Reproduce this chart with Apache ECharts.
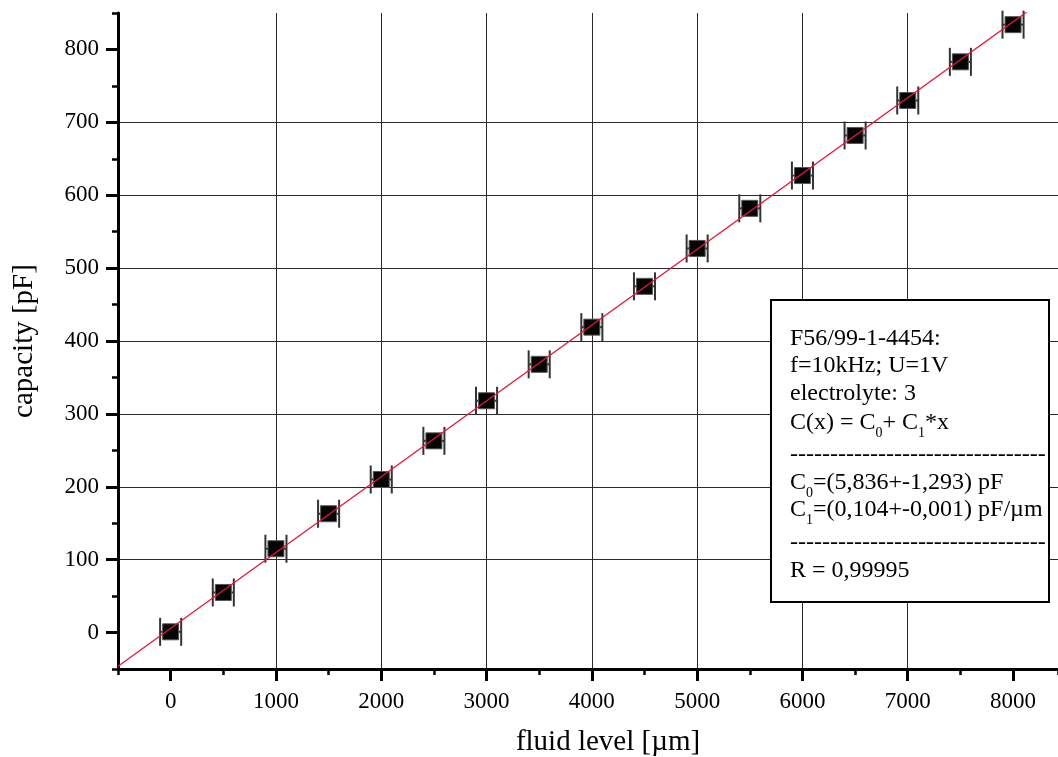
<!DOCTYPE html>
<html>
<head>
<meta charset="utf-8">
<title>capacity vs fluid level</title>
<script src="https://cdn.jsdelivr.net/npm/echarts@6/dist/echarts.min.js"></script>
<style>
  html, body { margin: 0; padding: 0; background: #fff; }
  #chart { width: 1058px; height: 757px; }
</style>
</head>
<body>
<div id="chart"></div>
<script>
// Measured points: fluid level [µm] and capacity [pF]
const levels = [0, 500, 1000, 1500, 2000, 2500, 3000, 3500, 4000, 4500, 5000, 5500, 6000, 6500, 7000, 7500, 8000];
const capacity = [1, 55, 115, 163, 210, 263, 318, 368, 419, 475, 527, 582, 627, 682, 730, 783, 834];
// Uncertainty of the fluid level reading [µm]
const levelError = [100, 100, 100, 100, 100, 100, 100, 100, 100, 100, 100, 100, 100, 100, 100, 100, 100];

// Linear fit C(x) = C0 + C1*x
const C0 = 5.836;
const C1 = 0.104;

// Axis ranges and labelled ticks
const xRange = [-500, 8427];
const yRange = [-50, 850];
const xTicks = [0, 1000, 2000, 3000, 4000, 5000, 6000, 7000, 8000];
const yTicks = [0, 100, 200, 300, 400, 500, 600, 700, 800];

// Annotation text
const infoLines = [
  'F56/99-1-4454:',
  'f=10kHz; U=1V',
  'electrolyte: 3',
  '{t|C(x) = C}{s|0}{t|+ C}{s|1}{t|*x}',
  '--------------------------------',
  '{t|C}{s|0}{t|=(5,836+-1,293) pF}',
  '{t|C}{s|1}{t|=(0,104+-0,001) pF/µm}',
  '--------------------------------',
  'R = 0,99995'
];

const FONT = '"Liberation Serif", "Times New Roman", serif';

const pts = levels.map((x, i) => [x, capacity[i]]);
const errData = levels.map((x, i) => [x, capacity[i], levelError[i]]);
const fitData = xRange.map(x => [x, C0 + C1 * x]);

const chart = echarts.init(document.getElementById('chart'), null, { renderer: 'canvas' });

const majorAxisCommon = {
  type: 'value',
  axisLine: { show: true, onZero: false, lineStyle: { color: '#000', width: 3 } },
  axisTick: { show: true, inside: false, length: 12, lineStyle: { color: '#000', width: 3 } },
  splitLine: { show: true, showMinLine: false, showMaxLine: false, lineStyle: { color: '#2a2a2a', width: 1 } },
  axisLabel: { color: '#000', fontFamily: FONT, fontSize: 23 }
};
const minorAxisCommon = {
  type: 'value',
  axisLine: { show: false, onZero: false },
  axisTick: { show: true, inside: false, length: 6, lineStyle: { color: '#000', width: 2.5 } },
  splitLine: { show: false },
  axisLabel: { show: false }
};

// Text block inside the framed box; rich lines carry subscripts
const lineTop = [327, 354, 382, 406, 443, 466, 493, 531, 559];
const info = infoLines.map((txt, i) => ({
  type: 'text',
  left: 790,
  top: lineTop[i],
  z: 101,
  style: {
    text: txt,
    fill: '#000',
    font: '24px ' + FONT,
    rich: {
      t: { fontFamily: FONT, fontSize: 24, fill: '#000', lineHeight: 24 },
      s: { fontFamily: FONT, fontSize: 14, fill: '#000', padding: [20, 0, 0, 0], lineHeight: 14 }
    }
  }
}));

const option = {
  backgroundColor: '#fff',
  animation: false,
  grid: { left: 118, right: 0, top: 13, bottom: 88, containLabel: false, outerBoundsMode: 'none' },
  xAxis: [
    Object.assign({}, majorAxisCommon, {
      position: 'bottom',
      min: xRange[0], max: xRange[1],
      minInterval: 1000, maxInterval: 1000, splitNumber: 9,
      axisTick: Object.assign({}, majorAxisCommon.axisTick, { customValues: xTicks }),
      axisLabel: Object.assign({}, majorAxisCommon.axisLabel, {
        margin: 21,
        customValues: xTicks,
        formatter: v => String(v)
      }),
      name: 'fluid level [µm]',
      nameLocation: 'middle',
      nameGap: 59,
      nameTextStyle: { color: '#000', fontFamily: FONT, fontSize: 29, padding: [0, 0, 0, 40] }
    }),
    Object.assign({}, minorAxisCommon, {
      position: 'bottom',
      min: xRange[0], max: xRange[1], interval: 500
    })
  ],
  yAxis: [
    Object.assign({}, majorAxisCommon, {
      position: 'left',
      min: yRange[0], max: yRange[1],
      minInterval: 100, maxInterval: 100, splitNumber: 9,
      axisTick: Object.assign({}, majorAxisCommon.axisTick, { customValues: yTicks }),
      axisLabel: Object.assign({}, majorAxisCommon.axisLabel, {
        margin: 19,
        customValues: yTicks,
        formatter: v => String(v)
      }),
      name: 'capacity [pF]',
      nameLocation: 'middle',
      nameGap: 79,
      nameRotate: 90,
      nameTextStyle: { color: '#000', fontFamily: FONT, fontSize: 29 }
    }),
    Object.assign({}, minorAxisCommon, {
      position: 'left',
      min: yRange[0], max: yRange[1], interval: 50
    })
  ],
  graphic: [
    {
      type: 'rect',
      left: 770, top: 299,
      z: 100,
      shape: { width: 278, height: 302 },
      style: { fill: '#fff', stroke: '#000', lineWidth: 2 }
    }
  ].concat(info),
  series: [
    {
      type: 'custom',
      name: 'level error',
      xAxisIndex: 0, yAxisIndex: 0,
      data: errData,
      z: 2,
      renderItem: function (params, api) {
        const x = api.value(0), y = api.value(1), e = api.value(2);
        const a = api.coord([x - e, y]);
        const b = api.coord([x + e, y]);
        const cap = 14;
        const st = { stroke: '#333', lineWidth: 2 };
        return {
          type: 'group',
          children: [
            { type: 'line', shape: { x1: a[0], y1: a[1], x2: b[0], y2: b[1] }, style: st },
            { type: 'line', shape: { x1: a[0], y1: a[1] - cap, x2: a[0], y2: a[1] + cap }, style: st },
            { type: 'line', shape: { x1: b[0], y1: b[1] - cap, x2: b[0], y2: b[1] + cap }, style: st }
          ]
        };
      }
    },
    {
      type: 'scatter',
      name: 'capacity',
      xAxisIndex: 0, yAxisIndex: 0,
      data: pts,
      symbol: 'rect',
      symbolSize: 16,
      z: 3,
      itemStyle: { color: '#050505', borderColor: '#555', borderWidth: 1, opacity: 1 }
    },
    {
      type: 'line',
      name: 'fit',
      xAxisIndex: 0, yAxisIndex: 0,
      data: fitData,
      showSymbol: false,
      symbol: 'none',
      clip: true,
      z: 4,
      lineStyle: { color: '#e4163c', width: 1.3 }
    }
  ]
};

chart.setOption(option);
</script>
</body>
</html>
